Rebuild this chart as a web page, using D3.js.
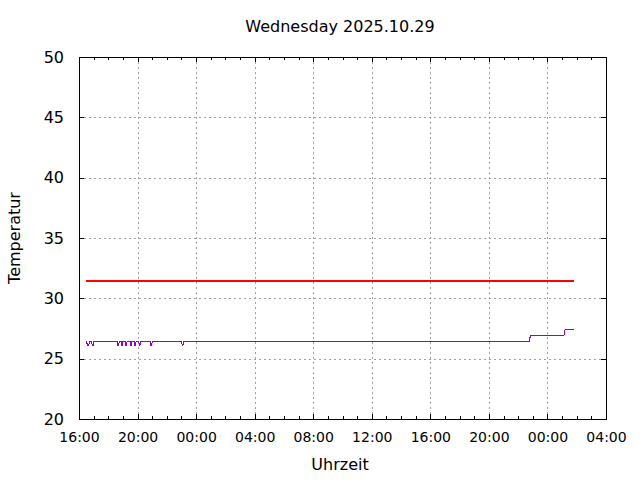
<!DOCTYPE html>
<html>
<head>
<meta charset="utf-8">
<script src="https://d3js.org/d3.v7.min.js"></script>
<style>
  body { margin: 0; background: #fff; }
  svg { font-family: "DejaVu Sans", sans-serif; }
  .grid line { stroke: #a0a0a0; stroke-dasharray: 2,3; shape-rendering: crispEdges; }
  .grid .domain { display: none; }
</style>
</head>
<body>
<script>
// temperature readings (time, value)
var tempTimes = [
  "2025-10-28 16:30", "2025-10-28 16:35", "2025-10-28 16:40", "2025-10-28 16:43",
  "2025-10-28 16:51", "2025-10-28 16:54", "2025-10-28 16:58", "2025-10-28 17:01",
  "2025-10-28 18:37", "2025-10-28 18:39", "2025-10-28 18:43", "2025-10-28 18:45",
  "2025-10-28 18:53", "2025-10-28 18:55", "2025-10-28 18:58", "2025-10-28 19:00",
  "2025-10-28 19:10", "2025-10-28 19:12", "2025-10-28 19:15", "2025-10-28 19:17",
  "2025-10-28 19:29", "2025-10-28 19:31", "2025-10-28 19:34", "2025-10-28 19:36",
  "2025-10-28 19:47", "2025-10-28 19:49", "2025-10-28 19:52", "2025-10-28 19:54",
  "2025-10-28 20:05", "2025-10-28 20:07", "2025-10-28 20:10", "2025-10-28 20:12",
  "2025-10-28 20:52", "2025-10-28 20:54", "2025-10-28 20:58", "2025-10-28 21:00",
  "2025-10-28 23:01", "2025-10-28 23:03", "2025-10-28 23:06", "2025-10-28 23:08",
  "2025-10-29 22:46", "2025-10-29 22:50",
  "2025-10-30 01:08", "2025-10-30 01:12", "2025-10-30 01:47"
];
var tempValues = [
  26.44, 26.12, 26.12, 26.44,
  26.44, 26.12, 26.12, 26.44,
  26.44, 26.12, 26.12, 26.44,
  26.44, 26.12, 26.12, 26.44,
  26.44, 26.12, 26.12, 26.44,
  26.44, 26.12, 26.12, 26.44,
  26.44, 26.12, 26.12, 26.44,
  26.44, 26.12, 26.12, 26.44,
  26.44, 26.12, 26.12, 26.44,
  26.44, 26.12, 26.12, 26.44,
  26.44, 26.94,
  26.94, 27.38, 27.38
];

// set point line
var setTimes = ["2025-10-28 16:28", "2025-10-30 01:47"];
var setValues = [31.44, 31.44];

var xDomain = ["2025-10-28 16:00", "2025-10-30 04:00"];
var yTicks = [20, 25, 30, 35, 40, 45, 50];

var parse = d3.timeParse("%Y-%m-%d %H:%M");

var temp = tempTimes.map(function(t, i) { return {t: parse(t), v: tempValues[i]}; });
var setp = setTimes.map(function(t, i) { return {t: parse(t), v: setValues[i]}; });

var W = 640, H = 480;
var margin = {top: 57, right: 34, bottom: 61, left: 79};
var width = W - margin.left - margin.right,
    height = H - margin.top - margin.bottom;

var svg = d3.select("body").append("svg")
    .attr("width", W)
    .attr("height", H);

var g = svg.append("g")
    .attr("transform", "translate(" + margin.left + "," + margin.top + ")");

var x = d3.scaleTime()
    .domain(xDomain.map(parse))
    .range([0, width]);

var y = d3.scaleLinear()
    .domain([20, 50])
    .range([height, 0]);

var majorX = d3.timeHour.every(4);

// grid
g.append("g")
    .attr("class", "grid")
    .attr("transform", "translate(0," + height + ")")
    .call(d3.axisBottom(x).ticks(majorX).tickSize(-height).tickFormat(""));

g.append("g")
    .attr("class", "grid")
    .call(d3.axisLeft(y).tickValues(yTicks).tickSize(-width).tickFormat(""));

// minor ticks (bottom & top)
g.append("g")
    .attr("transform", "translate(0," + height + ")")
    .call(d3.axisBottom(x).ticks(d3.timeHour.every(1)).tickSize(-3).tickFormat(""))
    .call(function(s) { s.select(".domain").remove(); });

g.append("g")
    .call(d3.axisTop(x).ticks(d3.timeHour.every(1)).tickSize(-3).tickFormat(""))
    .call(function(s) { s.select(".domain").remove(); });

// major axes
var xAxis = g.append("g")
    .attr("transform", "translate(0," + height + ")")
    .call(d3.axisBottom(x).ticks(majorX).tickSize(-5).tickSizeOuter(0)
      .tickPadding(13).tickFormat(d3.timeFormat("%H:%M")));
xAxis.select(".domain").remove();
xAxis.selectAll("text").attr("font-size", 14).attr("font-family", "DejaVu Sans");

g.append("g")
    .call(d3.axisTop(x).ticks(majorX).tickSize(-5).tickFormat(""))
    .call(function(s) { s.select(".domain").remove(); });

var yAxis = g.append("g")
    .call(d3.axisLeft(y).tickValues(yTicks).tickSize(-5).tickPadding(15));
yAxis.select(".domain").remove();
yAxis.selectAll("text").attr("font-size", 16).attr("font-family", "DejaVu Sans");

g.append("g")
    .attr("transform", "translate(" + width + ",0)")
    .call(d3.axisRight(y).tickValues(yTicks).tickSize(-5).tickFormat(""))
    .call(function(s) { s.select(".domain").remove(); });

g.selectAll(".tick line").filter(function() { return !this.closest(".grid"); })
    .attr("stroke", "#000")
    .attr("shape-rendering", "crispEdges");

// frame
g.append("rect")
    .attr("width", width)
    .attr("height", height)
    .attr("fill", "none")
    .attr("stroke", "#000")
    .attr("shape-rendering", "crispEdges");

var line = d3.line()
    .x(function(d) { return x(d.t); })
    .y(function(d) { return y(d.v); });

g.append("path")
    .datum(setp)
    .attr("fill", "none")
    .attr("stroke", "#ff0000")
    .attr("stroke-width", 2)
    .attr("shape-rendering", "crispEdges")
    .attr("d", line);

g.append("path")
    .datum(temp)
    .attr("fill", "none")
    .attr("stroke", "#9400d3")
    .attr("stroke-width", 1)
    .attr("shape-rendering", "crispEdges")
    .attr("d", line);

// texts
svg.append("text")
    .attr("x", 340).attr("y", 32)
    .attr("text-anchor", "middle")
    .attr("font-size", 16)
    .text("Wednesday 2025.10.29");

svg.append("text")
    .attr("x", 340).attr("y", 470)
    .attr("text-anchor", "middle")
    .attr("font-size", 16)
    .text("Uhrzeit");

svg.append("text")
    .attr("transform", "translate(20,238) rotate(-90)")
    .attr("text-anchor", "middle")
    .attr("font-size", 16)
    .text("Temperatur");
</script>
</body>
</html>
